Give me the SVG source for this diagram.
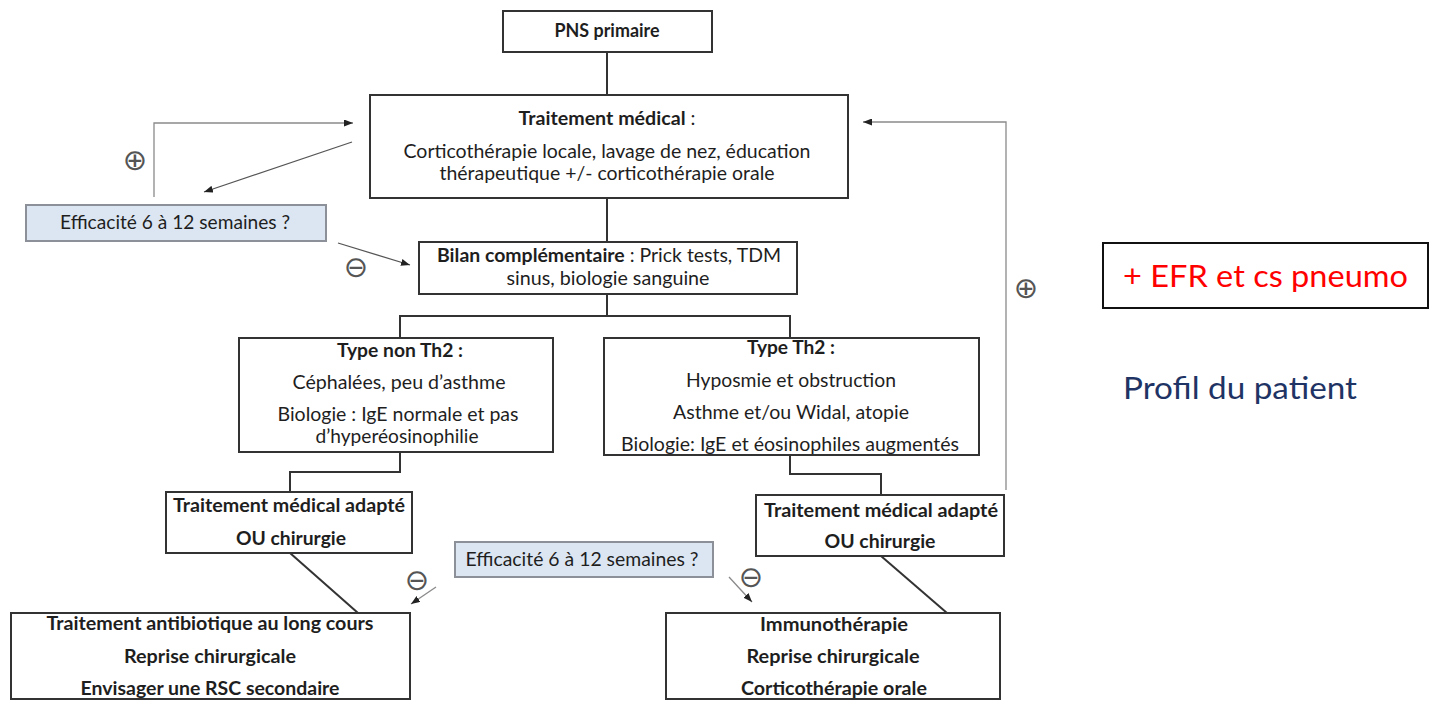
<svg xmlns="http://www.w3.org/2000/svg" width="1429" height="701" viewBox="0 0 1429 701">
<style>
text{font-family:Lato,"Liberation Sans",sans-serif;font-size:19px;fill:#1e1e1e;text-anchor:middle}
.b{font-weight:bold}
.box{fill:#fff;stroke:#333;stroke-width:2}
.q{fill:#dce6f2;stroke:#8c9098;stroke-width:2}
.c{fill:none;stroke:#333;stroke-width:2}
.fb{fill:none;stroke:#8a8a8a;stroke-width:1.3}
.ar{fill:none;stroke:#555;stroke-width:1.3}
.sym{font-family:"DejaVu Sans",sans-serif;font-size:29px;fill:#555}
</style>
<defs>
<marker id="ah" markerUnits="userSpaceOnUse" markerWidth="9" markerHeight="7" refX="9" refY="3.5" orient="auto">
<path d="M0,0 L9,3.5 L0,7 z" fill="#222"/>
</marker>
</defs>
<rect width="1429" height="701" fill="#fff"/>
<g id="connectors">
<line class="c" x1="607" y1="52" x2="607" y2="95"/>
<line class="c" x1="607" y1="198" x2="607" y2="242"/>
<polyline class="c" points="607,294 607,316"/>
<polyline class="c" points="400,338 400,316 790,316 790,338"/>
<polyline class="c" points="400,452 400,472 290,472 290,492"/>
<polyline class="c" points="790,455 790,474 881,474 881,495"/>
<line class="c" x1="290" y1="553" x2="358" y2="613"/>
<line class="c" x1="881" y1="556" x2="947" y2="613"/>
<polyline class="fb" points="154,197 154,123 353,123" marker-end="url(#ah)"/>
<line class="ar" x1="352" y1="142" x2="204" y2="192" marker-end="url(#ah)"/>
<line class="ar" x1="338" y1="243" x2="410" y2="265" marker-end="url(#ah)"/>
<polyline class="fb" points="1006,490 1006,122 863,122" marker-end="url(#ah)"/>
<line class="fb" x1="436" y1="587" x2="411" y2="604" marker-end="url(#ah)"/>
<line class="fb" x1="729" y1="577" x2="752" y2="602" marker-end="url(#ah)"/>
<text class="sym" x="135" y="170">⊕</text>
<text class="sym" x="356" y="277">⊖</text>
<text class="sym" x="1026" y="298">⊕</text>
<text class="sym" x="417" y="590">⊖</text>
<text class="sym" x="751" y="587">⊖</text>
</g>
<g id="pns">
<rect class="box" x="503" y="11" width="209" height="41"/>
<text class="b" x="607" y="37" textLength="105" lengthAdjust="spacingAndGlyphs">PNS primaire</text>
</g>
<g id="traitement">
<rect class="box" x="370" y="95" width="478" height="103"/>
<text x="607" y="125" textLength="177" lengthAdjust="spacingAndGlyphs"><tspan class="b">Traitement médical</tspan> :</text>
<text x="607" y="158" textLength="407" lengthAdjust="spacingAndGlyphs">Corticothérapie locale, lavage de nez, éducation</text>
<text x="607" y="180" textLength="335" lengthAdjust="spacingAndGlyphs">thérapeutique +/- corticothérapie orale</text>
</g>
<g id="efficacite1">
<rect class="q" x="26" y="205" width="300" height="36"/>
<text x="175" y="229" textLength="230" lengthAdjust="spacingAndGlyphs">Efficacité 6 à 12 semaines ?</text>
</g>
<g id="bilan">
<rect class="box" x="419" y="242" width="378" height="52"/>
<text x="609" y="262" textLength="344" lengthAdjust="spacingAndGlyphs"><tspan class="b">Bilan complémentaire</tspan> : Prick tests, TDM</text>
<text x="608" y="285" textLength="203" lengthAdjust="spacingAndGlyphs">sinus, biologie sanguine</text>
</g>
<g id="nonth2">
<rect class="box" x="239" y="338" width="314" height="114"/>
<text class="b" x="400" y="357" textLength="126" lengthAdjust="spacingAndGlyphs">Type non Th2 :</text>
<text x="399" y="389" textLength="213" lengthAdjust="spacingAndGlyphs">Céphalées, peu d’asthme</text>
<text x="398" y="421" textLength="241" lengthAdjust="spacingAndGlyphs">Biologie : IgE normale et pas</text>
<text x="397" y="443" textLength="163" lengthAdjust="spacingAndGlyphs">d’hyperéosinophilie</text>
</g>
<g id="th2">
<rect class="box" x="604" y="338" width="375" height="117"/>
<text class="b" x="791" y="354" textLength="88" lengthAdjust="spacingAndGlyphs">Type Th2 :</text>
<text x="791" y="387" textLength="210" lengthAdjust="spacingAndGlyphs">Hyposmie et obstruction</text>
<text x="791" y="419" textLength="236" lengthAdjust="spacingAndGlyphs">Asthme et/ou Widal, atopie</text>
<text x="790" y="451" textLength="338" lengthAdjust="spacingAndGlyphs">Biologie: IgE et éosinophiles augmentés</text>
</g>
<g id="tma-left">
<rect class="box" x="166" y="492" width="246" height="61"/>
<text class="b" x="289" y="512" textLength="232" lengthAdjust="spacingAndGlyphs">Traitement médical adapté</text>
<text class="b" x="291" y="545" textLength="110" lengthAdjust="spacingAndGlyphs">OU chirurgie</text>
</g>
<g id="tma-right">
<rect class="box" x="756" y="495" width="248" height="61"/>
<text class="b" x="881" y="517" textLength="234" lengthAdjust="spacingAndGlyphs">Traitement médical adapté</text>
<text class="b" x="880" y="548" textLength="111" lengthAdjust="spacingAndGlyphs">OU chirurgie</text>
</g>
<g id="efficacite2">
<rect class="q" x="455" y="542" width="258" height="35"/>
<text x="582" y="566" textLength="233" lengthAdjust="spacingAndGlyphs">Efficacité 6 à 12 semaines ?</text>
</g>
<g id="bottom-left">
<rect class="box" x="11" y="613" width="399" height="86"/>
<text class="b" x="210" y="630" textLength="327" lengthAdjust="spacingAndGlyphs">Traitement antibiotique au long cours</text>
<text class="b" x="210" y="663" textLength="172" lengthAdjust="spacingAndGlyphs">Reprise chirurgicale</text>
<text class="b" x="210" y="695" textLength="259" lengthAdjust="spacingAndGlyphs">Envisager une RSC secondaire</text>
</g>
<g id="bottom-right">
<rect class="box" x="666" y="613" width="334" height="86"/>
<text class="b" x="834" y="631" textLength="148" lengthAdjust="spacingAndGlyphs">Immunothérapie</text>
<text class="b" x="833" y="663" textLength="173" lengthAdjust="spacingAndGlyphs">Reprise chirurgicale</text>
<text class="b" x="834" y="695" textLength="186" lengthAdjust="spacingAndGlyphs">Corticothérapie orale</text>
</g>
<g id="efr">
<rect x="1103" y="243" width="325" height="65" fill="#fff" stroke="#111" stroke-width="2"/>
<text x="1123" y="287" style="text-anchor:start;font-size:30px;fill:#ff0000" textLength="285" lengthAdjust="spacingAndGlyphs">+ EFR et cs pneumo</text>
</g>
<g id="profil">
<text x="1123" y="399" style="text-anchor:start;font-size:30px;fill:#1f3464" textLength="234" lengthAdjust="spacingAndGlyphs">Profil du patient</text>
</g>
</svg>
